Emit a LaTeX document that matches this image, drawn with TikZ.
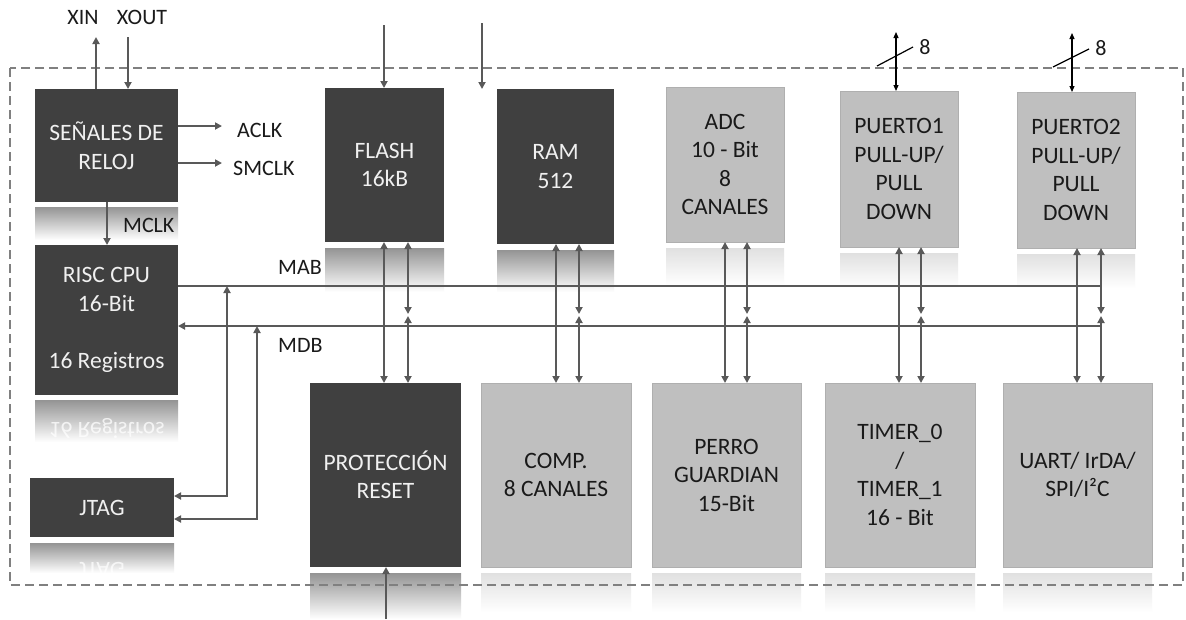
\documentclass[tikz,border=0pt]{standalone}
\usepackage{fontspec}
\setmainfont{Carlito}
\usetikzlibrary{arrows.meta,calc}
\definecolor{darkfill}{HTML}{404040}
\definecolor{lightfill}{HTML}{BFBFBF}
\definecolor{lightedge}{HTML}{AFAFAF}
\definecolor{wirecol}{HTML}{595959}
\definecolor{dashcol}{HTML}{808080}
\definecolor{txtcol}{HTML}{1A1A1A}
\begin{document}
\begin{tikzpicture}[x=1pt,y=-1pt,
  bigfont/.style={font=\fontsize{22}{28}\selectfont},
  boxfont/.style={font=\fontsize{23.5}{28.5}\selectfont},
  darkbox/.style={boxfont, fill=darkfill, text=white!94!black, inner sep=0pt, outer sep=0pt, align=center},
  lightbox/.style={boxfont, fill=lightfill, draw=lightedge, line width=0.8pt, text=txtcol, inner sep=0pt, outer sep=0pt, align=center},
  lbl/.style={bigfont, text=txtcol, inner sep=0pt},
  wire/.style={draw=wirecol, line width=2pt},
  arr/.style={wire, -{Triangle[length=7pt,width=7pt]}},
  darr/.style={wire, {Triangle[length=7pt,width=7pt]}-{Triangle[length=7pt,width=7pt]}},
  parr/.style={draw=black, line width=1.2pt, {Triangle[length=6pt,width=5pt]}-{Triangle[length=6pt,width=5pt]}},
  darkrefl/.style={top color=black!42, bottom color=white, draw=none},
  lightrefl/.style={top color=black!12, bottom color=white, draw=none},
  mirror/.style={boxfont, text=white, opacity=0.75, inner sep=0pt},
]
\useasboundingbox (0,0) rectangle (1186,619);
\fill[white] (0,0) rectangle (1186,619);

% reflections
\shade[darkrefl] (35,207) rectangle (178,240);
\shade[darkrefl] (35,400) rectangle (178,442);
\shade[darkrefl] (30,543) rectangle (174,573);
\shade[darkrefl] (325,248) rectangle (444,292);
\shade[darkrefl] (497,250) rectangle (614,292);
\shade[lightrefl] (666,248) rectangle (784,285);
\shade[lightrefl] (840,253) rectangle (958,288);
\shade[lightrefl] (1017,254) rectangle (1135,288);
\shade[darkrefl] (310,573) rectangle (461,619);
\shade[lightrefl] (481,573) rectangle (631,612);
\shade[lightrefl] (652,573) rectangle (801,612);
\shade[lightrefl] (825,573) rectangle (975,612);
\shade[lightrefl] (1003,573) rectangle (1152,612);
\begin{scope}
  \clip (35,400) rectangle (178,442);
  \node[mirror] (cpurefl) at (106.5,429) {\scalebox{1}[-1]{16 Registros}};
\end{scope}
\begin{scope}
  \clip (30,543) rectangle (174,573);
  \node[mirror] (jtagrefl) at (102,570) {\scalebox{1}[-1]{JTAG}};
\end{scope}

% dashed border
\draw[dashcol, line width=1.2pt, dash pattern=on 9pt off 5pt] (10,68) rectangle (1183,585);

% blocks
\node[darkbox, minimum width=143pt, minimum height=113pt] (clk) at (106.5,145.5) {SEÑALES DE\\RELOJ};
\node[darkbox, minimum width=143pt, minimum height=150pt] (cpu) at (106.5,320) {RISC CPU\\16-Bit\\\mbox{}\\16 Registros};
\node[darkbox, minimum width=144pt, minimum height=59pt] (jtag) at (102,507.5) {JTAG};
\node[darkbox, minimum width=119pt, minimum height=154pt] (flash) at (384.5,165) {FLASH\\16kB};
\node[darkbox, minimum width=117pt, minimum height=155pt] (ram) at (555.5,166.5) {RAM\\512};
\node[lightbox, minimum width=118pt, minimum height=155pt] (adc) at (725,164.5) {ADC\\10 - Bit\\8\\CANALES};
\node[lightbox, minimum width=118pt, minimum height=156pt] (p1) at (899,169) {PUERTO1\\PULL-UP/\\PULL\\DOWN};
\node[lightbox, minimum width=118pt, minimum height=156pt] (p2) at (1076,170) {PUERTO2\\PULL-UP/\\PULL\\DOWN};
\node[darkbox, minimum width=151pt, minimum height=184pt] (prot) at (385.5,475) {PROTECCIÓN\\RESET};
\node[lightbox, minimum width=150pt, minimum height=184pt] (comp) at (556,475) {COMP.\\8 CANALES};
\node[lightbox, minimum width=149pt, minimum height=184pt] (perro) at (726.5,475) {PERRO\\GUARDIAN\\15-Bit};
\node[lightbox, minimum width=150pt, minimum height=184pt] (timer) at (900,475) {TIMER\_0\\/\\TIMER\_1\\16 - Bit};
\node[lightbox, minimum width=149pt, minimum height=184pt] (uart) at (1077.5,475) {UART/ IrDA/\\SPI/I²C};

% labels
\node[lbl] (xinl) at (83,17) {XIN};
\node[lbl] (xoutl) at (142,17) {XOUT};
\node[lbl, anchor=west] (aclkl) at (237,130) {ACLK};
\node[lbl, anchor=west] (smclkl) at (233,168) {SMCLK};
\node[lbl, anchor=west] (mclkl) at (123,225) {MCLK};
\node[lbl, anchor=west] (mabl) at (278,267.5) {MAB};
\node[lbl, anchor=west] (mdbl) at (278,345) {MDB};
\node[lbl] (p1w) at (925,47.5) {8};
\node[lbl] (p2w) at (1101,48.5) {8};

% coordinates
\coordinate (xin) at (96,37);
\coordinate (xout) at (128,37);
\coordinate (aclkE) at (222,126);
\coordinate (smclkE) at (222,163);
\coordinate (mclkx) at (107,0);
\coordinate (mabE) at (1101,286);
\coordinate (mdbE) at (1101,326);
\coordinate (bow) at (0,315);
\coordinate (j1) at (227,496);
\coordinate (j2) at (257,519);
\coordinate (ftop) at (384,25);
\coordinate (rtop) at (482,23);
\coordinate (rbot) at (482,89);
\coordinate (pbot) at (386,619);
\coordinate (p1t) at (896,32);
\coordinate (p2t) at (1072,33);

% clock signals
\draw[arr] (clk.north -| xin) -- (xin);
\draw[arr] (xout) -- (clk.north -| xout);
\draw[arr] (clk.east |- aclkE) -- (aclkE);
\draw[arr] (clk.east |- smclkE) -- (smclkE);
\draw[arr] (clk.south -| mclkx) -- (cpu.north -| mclkx);

% buses
\draw[wire] (cpu.east |- mabE) -- (mabE);
\draw[arr] (mdbE) -- (cpu.east |- mdbE);
\draw[darr] (jtag.east |- j1) -- (j1) -- (j1 |- mabE);
\draw[darr] (jtag.east |- j2) -- (j2) -- (j2 |- mdbE);

% vertical bus taps
\foreach \t/\b/\a/\d in {flash/prot/384/408, ram/comp/556/579, adc/perro/725/747, p1/timer/899/921, p2/uart/1077/1101}{
  \coordinate (ta) at (\a,0);
  \coordinate (td) at (\d,0);
  \draw[darr] (\t.south -| ta) -- (\b.north -| ta);
  \draw[darr, shorten >=1pt] (\t.south -| td) -- (td |- bow);
  \draw[darr, shorten <=1pt] (td |- bow) -- (\b.north -| td);
}

% external arrows
\draw[arr] (ftop) -- (flash.north -| ftop);
\draw[arr] (rtop) -- (rbot);
\draw[arr] (pbot) -- (prot.south -| pbot);

% port arrows
\draw[parr] (p1t) -- (p1.north -| p1t);
\draw[black, line width=1.2pt] (877,66) -- (913,47);
\draw[parr] (p2t) -- (p2.north -| p2t);
\draw[black, line width=1.2pt] (1053,67) -- (1089,49);
\end{tikzpicture}
\end{document}
